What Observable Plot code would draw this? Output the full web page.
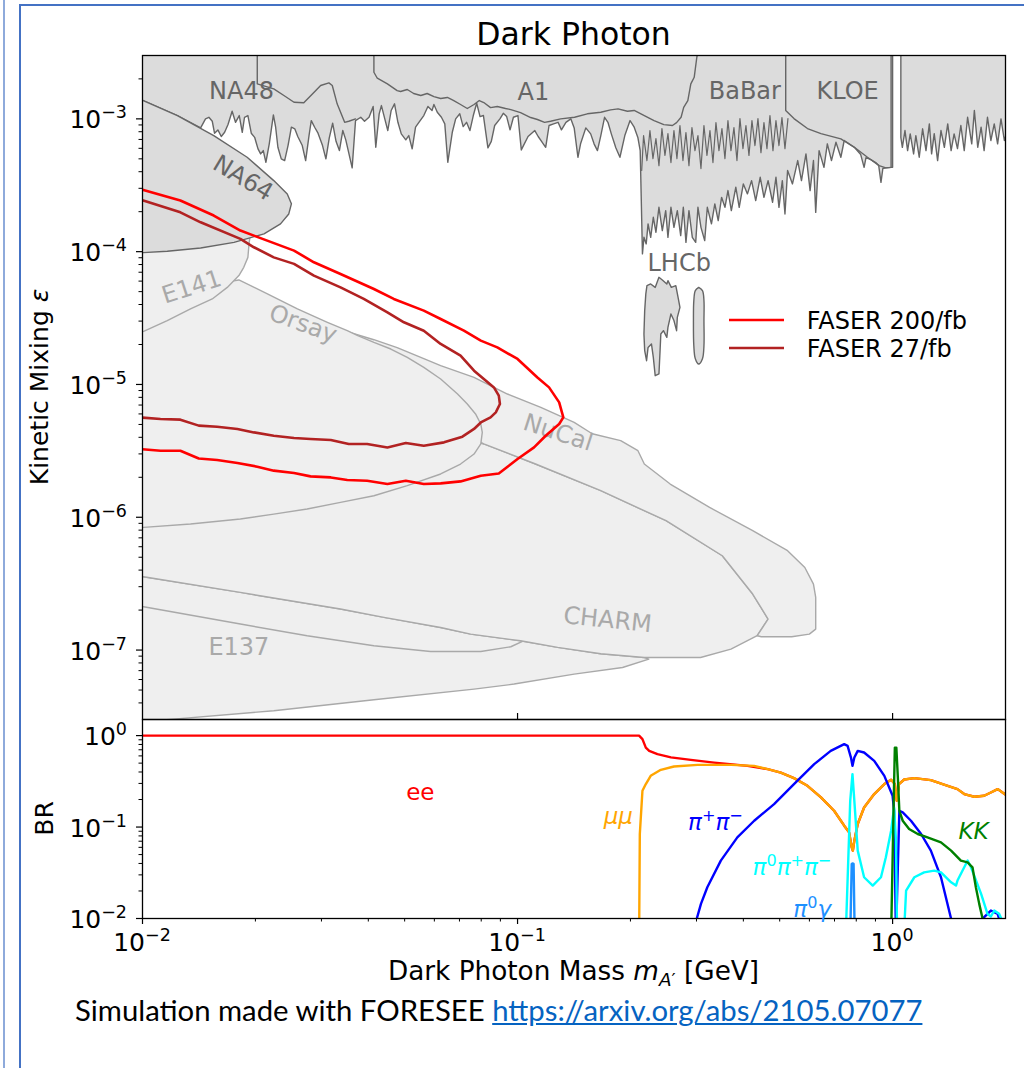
<!DOCTYPE html>
<html>
<head>
<meta charset="utf-8">
<script src="https://cdn.jsdelivr.net/npm/d3@7"></script>
<script src="https://cdn.jsdelivr.net/npm/@observablehq/plot@0.6"></script>
<style>
  body { margin: 0; background: #fff; }
  #page { position: relative; width: 1024px; height: 1068px; overflow: hidden; background: #fff; font-family: "DejaVu Sans", sans-serif; }
  .abs { position: absolute; }
  #page svg { overflow: visible; }
  #caption { font-family: Lato, "Open Sans", sans-serif; font-size: 29.3px; line-height: 29.3px; white-space: nowrap; color: #000; }
  #caption a { color: #0563c1; text-decoration: underline; }
</style>
</head>
<body>
<div id="page">
  <div class="abs" style="left:3px;top:0;width:2px;height:1068px;background:#8eaadb"></div>
  <div class="abs" style="left:19px;top:4px;width:1010px;height:1070px;border-left:2px solid #4472c4;border-top:2px solid #4472c4"></div>
  <div class="abs" id="top" style="left:0;top:0"></div>
  <div class="abs" id="bottom" style="left:0;top:700px"></div>
  <div class="abs" id="caption" style="left:75px;top:995px">Simulation made with FORESEE <a href="https://arxiv.org/abs/2105.07077">https://arxiv.org/abs/2105.07077</a></div>
</div>
<script>
// ---------------------------------------------------------------------------
// Axis ranges
const massDomain = [0.01, 2];       // GeV
const epsDomain = [3e-8, 3e-3];     // kinetic mixing
const brDomain = [0.01, 1.5];       // branching ratio

const massMajor = [0.01, 0.1, 1];
const epsMajor = [1e-7, 1e-6, 1e-5, 1e-4, 1e-3];
const brMajor = [0.01, 0.1, 1];

// ---------------------------------------------------------------------------
// Exclusion contours, listed as [log10(m / GeV), log10(epsilon)]

// beam dump limits (light grey)
const e137 = [[-2.08,-6.43],[-1.997,-6.448],[-1.739,-6.566],[-1.472,-6.691],[-1.356,-6.754],[-1.205,-6.830],[-1.125,-6.880],[-0.992,-6.930],[-0.893,-6.980],[-0.778,-7.028],[-0.662,-7.056],[-0.650,-7.068],[-0.720,-7.131],[-0.849,-7.181],[-1.009,-7.256],[-1.116,-7.294],[-1.383,-7.374],[-1.650,-7.457],[-1.917,-7.520],[-2.0,-7.540],[-2.08,-7.56]];
const e137Inner = [[-2.08,-6.66],[-1.997,-6.674],[-1.739,-6.804],[-1.561,-6.892],[-1.383,-6.968],[-1.232,-7.011],[-1.098,-7.011],[-1.018,-6.975],[-0.987,-6.935]];
const charm = [[-2.08,-4.97],[-2.0,-4.971],[-1.579,-5.122],[-1.312,-5.272],[-1.090,-5.448],[-0.952,-5.599],[-0.778,-5.800],[-0.604,-6.026],[-0.454,-6.290],[-0.373,-6.578],[-0.332,-6.767],[-0.361,-6.892],[-0.431,-6.993],[-0.512,-7.056],[-0.662,-7.056],[-0.778,-7.028],[-0.893,-6.980],[-0.992,-6.930],[-1.125,-6.880],[-1.205,-6.830],[-1.356,-6.754],[-1.472,-6.691],[-1.739,-6.566],[-1.997,-6.448],[-2.08,-6.43]];
const nucal = [[-1.525,-4.708],[-1.454,-4.603],[-1.383,-4.663],[-1.321,-4.723],[-1.250,-4.806],[-1.205,-4.858],[-1.116,-4.947],[-1.063,-5.022],[-1.027,-5.072],[-0.938,-5.173],[-0.849,-5.286],[-0.801,-5.371],[-0.725,-5.423],[-0.679,-5.499],[-0.662,-5.599],[-0.593,-5.750],[-0.488,-5.926],[-0.373,-6.101],[-0.280,-6.252],[-0.234,-6.378],[-0.211,-6.503],[-0.205,-6.604],[-0.205,-6.842],[-0.222,-6.880],[-0.269,-6.900],[-0.350,-6.900],[-0.361,-6.892],[-0.332,-6.767],[-0.373,-6.578],[-0.454,-6.290],[-0.604,-6.026],[-0.778,-5.800],[-0.952,-5.599],[-1.090,-5.448],[-1.312,-5.122],[-1.525,-4.708]];
const orsay = [[-2.08,-4.40],[-2.0,-4.369],[-1.845,-4.256],[-1.743,-4.213],[-1.667,-4.318],[-1.587,-4.431],[-1.507,-4.532],[-1.454,-4.595],[-1.426,-4.632],[-1.383,-4.683],[-1.338,-4.733],[-1.294,-4.796],[-1.250,-4.871],[-1.205,-4.959],[-1.160,-5.072],[-1.134,-5.147],[-1.112,-5.222],[-1.098,-5.298],[-1.094,-5.361],[-1.098,-5.448],[-1.116,-5.524],[-1.152,-5.599],[-1.205,-5.674],[-1.294,-5.762],[-1.383,-5.838],[-1.472,-5.888],[-1.561,-5.938],[-1.650,-5.976],[-1.739,-6.013],[-1.872,-6.051],[-1.997,-6.076],[-2.08,-6.10]];
const e141 = [[-2.08,-3.85],[-1.712,-3.857],[-1.716,-3.942],[-1.719,-4.043],[-1.730,-4.118],[-1.743,-4.180],[-1.774,-4.269],[-1.814,-4.356],[-1.872,-4.431],[-1.934,-4.519],[-1.997,-4.600],[-2.08,-4.66]];

// collider / fixed target limits (dark grey)
const na64 = [[-2.08,-2.76],[-1.998,-2.862],[-1.907,-2.975],[-1.810,-3.126],[-1.721,-3.289],[-1.650,-3.465],[-1.614,-3.565],[-1.603,-3.640],[-1.610,-3.716],[-1.632,-3.791],[-1.676,-3.866],[-1.756,-3.930],[-1.845,-3.972],[-1.934,-3.997],[-1.998,-4.007],[-2.08,-4.02]];

// combined NA48 / A1 / BaBar / LHCb / KLOE excluded band below 1 GeV
const visibleBand = [[-2.08,-2.3],[-2.08,-2.76],[-1.998,-2.862],[-1.907,-2.975],[-1.845,-3.068],
  [-1.832,-3.000],[-1.823,-2.988],[-1.814,-3.018],[-1.808,-3.108],[-1.799,-3.083],[-1.790,-3.133],[-1.781,-3.101],[-1.772,-3.043],[-1.761,-2.943],[-1.752,-3.026],[-1.742,-2.975],[-1.734,-3.101],[-1.728,-2.988],[-1.719,-2.975],[-1.710,-3.108],[-1.701,-3.139],[-1.692,-3.226],[-1.685,-3.264],[-1.678,-3.239],[-1.671,-3.327],[-1.662,-3.188],[-1.651,-2.970],[-1.645,-3.063],[-1.639,-3.214],[-1.630,-3.301],[-1.621,-3.314],[-1.612,-3.201],[-1.603,-3.063],[-1.594,-3.075],[-1.586,-3.133],[-1.574,-3.201],[-1.565,-3.314],[-1.556,-3.126],[-1.550,-3.013],[-1.541,-3.063],[-1.532,-3.108],[-1.520,-3.201],[-1.511,-3.301],[-1.502,-3.143],[-1.493,-3.033],[-1.484,-3.169],[-1.475,-3.239],[-1.466,-3.088],[-1.458,-3.158],[-1.449,-3.269],[-1.441,-3.369],
  [-1.432,-3.013],[-1.418,-2.988],[-1.408,-3.018],[-1.396,-2.988],[-1.385,-2.907],[-1.378,-3.214],[-1.369,-2.962],[-1.363,-2.900],[-1.354,-3.000],[-1.346,-3.088],[-1.337,-2.937],[-1.328,-2.887],[-1.319,-3.026],[-1.310,-3.113],[-1.298,-3.158],[-1.290,-3.126],[-1.281,-3.226],[-1.272,-3.063],[-1.263,-3.026],[-1.250,-2.975],[-1.239,-2.907],[-1.228,-2.937],[-1.223,-2.892],[-1.214,-2.950],[-1.203,-2.988],[-1.194,-3.038],[-1.186,-3.327],[-1.174,-3.101],[-1.165,-3.000],[-1.154,-2.962],[-1.145,-3.058],[-1.136,-3.026],[-1.127,-3.088],[-1.118,-2.975],[-1.109,-2.882],[-1.100,-2.983],[-1.091,-2.975],[-1.079,-3.218],[-1.070,-3.169],[-1.061,-3.050],[-1.047,-3.000],[-1.038,-2.958],[-1.029,-2.983],[-1.020,-3.083],[-1.011,-2.988],[-0.999,-2.975],[-0.990,-3.234],[-0.972,-3.133],[-0.954,-3.088],[-0.945,-3.133],[-0.936,-3.169],[-0.925,-3.214],[-0.916,-3.050],[-0.904,-3.038],[-0.892,-3.026],[-0.883,-3.083],[-0.871,-3.026],[-0.858,-3.000],[-0.849,-3.068],[-0.839,-3.289],[-0.832,-3.188],[-0.818,-3.068],[-0.805,-3.113],[-0.796,-3.188],[-0.787,-3.239],[-0.778,-3.126],[-0.768,-2.988],[-0.759,-3.026],[-0.750,-3.113],[-0.738,-3.218],[-0.727,-3.289],[-0.714,-3.126],[-0.700,-3.013],[-0.689,-3.063],[-0.679,-3.143],[-0.673,-3.239],[-0.672,-3.365],
  [-0.667,-4.017],[-0.663,-3.892],[-0.657,-3.942],[-0.652,-3.791],[-0.645,-3.892],[-0.638,-3.741],[-0.631,-3.854],[-0.623,-3.666],[-0.614,-3.841],[-0.605,-3.691],[-0.599,-3.892],[-0.591,-3.666],[-0.583,-3.817],[-0.574,-3.691],[-0.565,-3.879],[-0.558,-3.666],[-0.551,-3.930],[-0.543,-3.691],[-0.534,-3.892],[-0.525,-3.930],[-0.519,-3.666],[-0.511,-3.817],[-0.501,-3.917],[-0.494,-3.666],[-0.483,-3.791],[-0.474,-3.640],[-0.465,-3.766],[-0.456,-3.591],[-0.447,-3.666],[-0.439,-3.540],[-0.430,-3.691],[-0.418,-3.515],[-0.409,-3.666],[-0.398,-3.490],[-0.387,-3.565],[-0.376,-3.465],[-0.365,-3.615],[-0.353,-3.440],[-0.343,-3.591],[-0.332,-3.465],[-0.320,-3.628],[-0.311,-3.440],[-0.303,-3.666],[-0.294,-3.465],[-0.287,-3.716],[-0.280,-3.389],[-0.267,-3.490],[-0.253,-3.314],[-0.243,-3.465],[-0.231,-3.264],[-0.220,-3.540],[-0.211,-3.314],[-0.205,-3.704],[-0.196,-3.239],[-0.183,-3.365],[-0.174,-3.188],[-0.163,-3.314],[-0.151,-3.176],[-0.138,-3.289],[-0.129,-3.163],
  [-0.102,-3.214],[-0.085,-3.269],[-0.076,-3.365],[-0.071,-3.292],[-0.058,-3.307],[-0.045,-3.329],[-0.037,-3.352],[-0.031,-3.478],[-0.026,-3.374],[-0.018,-3.369],[-0.004,-3.365],[0.000,-3.365],[0.000,-2.3]];

// excluded band above the phi resonance
const visibleBandHigh = [[0.022,-2.3],[0.022,-3.139],[0.026,-3.214],[0.033,-3.088],[0.040,-3.239],[0.047,-3.113],[0.056,-3.264],[0.062,-3.126],[0.071,-3.289],[0.080,-3.075],[0.089,-3.239],[0.098,-3.038],[0.104,-3.264],[0.111,-3.111],[0.120,-3.314],[0.129,-3.088],[0.138,-3.214],[0.147,-3.038],[0.156,-3.239],[0.164,-3.113],[0.173,-3.224],[0.182,-3.050],[0.191,-3.239],[0.200,-2.988],[0.211,-3.188],[0.218,-2.937],[0.227,-3.214],[0.236,-3.063],[0.244,-3.239],[0.253,-2.988],[0.262,-3.163],[0.271,-3.038],[0.280,-3.188],[0.289,-3.000],[0.298,-3.163],[0.302,-3.126],[0.321,-3.10],[0.321,-2.3]];

// individual experiment edges inside the band
const na48Edge = [[-1.694,-2.4],[-1.694,-2.736],[-1.650,-2.774],[-1.623,-2.824],[-1.596,-2.875],[-1.570,-2.879],[-1.547,-2.812],[-1.525,-2.749],[-1.503,-2.729],[-1.494,-2.749],[-1.481,-2.887],[-1.461,-3.026],[-1.450,-3.018],[-1.432,-3.000]];
const a1Edge = [[-1.383,-2.4],[-1.383,-2.649],[-1.374,-2.694],[-1.347,-2.736],[-1.321,-2.787],[-1.312,-2.794],[-1.294,-2.779],[-1.277,-2.809],[-1.258,-2.824],[-1.241,-2.809],[-1.223,-2.832],[-1.205,-2.847],[-1.187,-2.839],[-1.170,-2.862],[-1.152,-2.892],[-1.134,-2.922],[-1.116,-2.892],[-1.102,-2.862],[-1.090,-2.877],[-1.072,-2.915],[-1.054,-2.907],[-1.032,-2.922],[-1.018,-2.930],[-0.992,-2.953],[-0.965,-2.990],[-0.947,-3.005],[-0.928,-3.026],[-0.912,-3.018],[-0.885,-3.000],[-0.848,-2.988],[-0.814,-2.962],[-0.778,-2.950],[-0.752,-2.932],[-0.732,-2.925],[-0.707,-2.943],[-0.689,-2.937],[-0.662,-2.975],[-0.636,-3.013],[-0.610,-3.043],[-0.587,-3.050],[-0.576,-3.028],[-0.564,-2.988],[-0.557,-2.913],[-0.546,-2.862],[-0.538,-2.736],[-0.529,-2.687],[-0.522,-2.536],[-0.517,-2.471]];
const kloeEdge = [[-0.285,-2.4],[-0.285,-2.937],[-0.263,-2.998],[-0.227,-3.073],[-0.191,-3.111],[-0.138,-3.151],[-0.102,-3.214],[-0.067,-3.289],[-0.036,-3.352],[-0.018,-3.369],[-0.004,-3.365],[-0.004,-2.4]];
const lhcbScan = [[-0.669,-3.389],[-0.664,-3.126],[-0.655,-3.314],[-0.647,-3.088],[-0.639,-3.299],[-0.631,-3.148],[-0.623,-3.352],[-0.615,-3.073],[-0.607,-3.276],[-0.599,-3.111],[-0.591,-3.329],[-0.583,-3.088],[-0.575,-3.299],[-0.567,-3.050],[-0.559,-3.314],[-0.551,-3.103],[-0.543,-3.352],[-0.535,-3.066],[-0.527,-3.239],[-0.519,-3.126],[-0.511,-3.374],[-0.503,-3.050],[-0.495,-3.276],[-0.487,-3.088],[-0.479,-3.329],[-0.471,-3.028],[-0.463,-3.239],[-0.455,-3.073],[-0.447,-3.299],[-0.439,-3.013],[-0.431,-3.239],[-0.423,-3.066],[-0.415,-3.314],[-0.407,-2.998],[-0.399,-3.224],[-0.391,-3.050],[-0.383,-3.276],[-0.375,-3.013],[-0.367,-3.201],[-0.359,-2.998],[-0.351,-3.254],[-0.343,-3.028],[-0.335,-3.224],[-0.327,-2.976],[-0.319,-3.239],[-0.311,-3.013],[-0.303,-3.201],[-0.295,-2.990],[-0.287,-3.224],[-0.279,-2.998]];

// LHCb displaced search islands
const lhcbIsland1 = [[-0.655,-4.256],[-0.645,-4.243],[-0.633,-4.269],[-0.623,-4.193],[-0.614,-4.213],[-0.602,-4.243],[-0.599,-4.218],[-0.590,-4.269],[-0.578,-4.256],[-0.572,-4.344],[-0.567,-4.419],[-0.574,-4.495],[-0.576,-4.595],[-0.583,-4.519],[-0.591,-4.469],[-0.599,-4.570],[-0.602,-4.645],[-0.611,-4.595],[-0.618,-4.620],[-0.620,-4.745],[-0.623,-4.921],[-0.633,-4.934],[-0.638,-4.796],[-0.643,-4.695],[-0.652,-4.721],[-0.656,-4.821],[-0.661,-4.745],[-0.663,-4.620],[-0.661,-4.444],[-0.658,-4.318],[-0.655,-4.256]];
const lhcbIsland2 = [[-0.517,-4.269],[-0.507,-4.293],[-0.503,-4.369],[-0.503,-4.519],[-0.503,-4.708],[-0.507,-4.806],[-0.517,-4.846],[-0.526,-4.806],[-0.530,-4.708],[-0.531,-4.519],[-0.530,-4.369],[-0.526,-4.293],[-0.517,-4.269]];

// FASER sensitivity contours
const faser200 = [[-2.0,-3.533],[-1.899,-3.615],[-1.810,-3.728],[-1.739,-3.841],[-1.703,-3.879],[-1.596,-3.992],[-1.543,-4.080],[-1.472,-4.168],[-1.383,-4.281],[-1.330,-4.356],[-1.250,-4.444],[-1.205,-4.507],[-1.143,-4.595],[-1.098,-4.670],[-1.054,-4.721],[-1.000,-4.808],[-0.947,-4.947],[-0.916,-5.022],[-0.889,-5.135],[-0.878,-5.248],[-0.889,-5.298],[-0.925,-5.386],[-0.956,-5.474],[-1.000,-5.561],[-1.050,-5.670],[-1.098,-5.687],[-1.152,-5.730],[-1.205,-5.745],[-1.250,-5.750],[-1.298,-5.725],[-1.347,-5.750],[-1.401,-5.725],[-1.454,-5.719],[-1.498,-5.700],[-1.552,-5.692],[-1.596,-5.667],[-1.650,-5.649],[-1.694,-5.619],[-1.747,-5.591],[-1.801,-5.569],[-1.850,-5.557],[-1.899,-5.499],[-1.952,-5.499],[-2.0,-5.488]];
const faser27 = [[-2.0,-3.613],[-1.899,-3.704],[-1.845,-3.779],[-1.739,-3.904],[-1.703,-3.967],[-1.650,-4.043],[-1.596,-4.092],[-1.543,-4.180],[-1.472,-4.269],[-1.410,-4.356],[-1.347,-4.457],[-1.303,-4.532],[-1.250,-4.595],[-1.205,-4.695],[-1.152,-4.783],[-1.116,-4.896],[-1.063,-5.022],[-1.050,-5.084],[-1.047,-5.147],[-1.058,-5.210],[-1.072,-5.248],[-1.098,-5.286],[-1.116,-5.335],[-1.147,-5.393],[-1.196,-5.436],[-1.250,-5.461],[-1.298,-5.441],[-1.347,-5.474],[-1.401,-5.448],[-1.450,-5.448],[-1.498,-5.418],[-1.552,-5.411],[-1.596,-5.403],[-1.650,-5.386],[-1.703,-5.361],[-1.747,-5.335],[-1.801,-5.318],[-1.850,-5.310],[-1.899,-5.265],[-1.952,-5.260],[-2.0,-5.250]];

// ---------------------------------------------------------------------------
// Branching ratios, listed as [log10(m / GeV), log10(BR)]; [NaN, NaN] breaks a curve
const brHighTail = [[-0.227,-0.549],[-0.191,-0.676],[-0.156,-0.822],[-0.129,-0.985],[-0.116,-1.058],[-0.109,-1.222],[-0.106,-1.258],[-0.102,-1.149],[-0.093,-0.967],[-0.076,-0.786],[-0.049,-0.639],[-0.022,-0.530],[-0.004,-0.483],[0.006,-0.530],[0.011,-0.712],[0.017,-0.530],[0.031,-0.480],[0.058,-0.465],[0.102,-0.487],[0.147,-0.549],[0.173,-0.585],[0.191,-0.639],[0.218,-0.669],[0.244,-0.658],[0.262,-0.622],[0.280,-0.585],[0.293,-0.622],[0.302,-0.647]];
const brEE = [[-2.0,0],[-0.676,0],[-0.667,-0.039],[-0.658,-0.131],[-0.649,-0.167],[-0.627,-0.203],[-0.591,-0.238],[-0.538,-0.265],[-0.476,-0.295],[-0.387,-0.331],[-0.333,-0.367],[-0.298,-0.404],[-0.263,-0.465], ...brHighTail];
const brMuMu = [[-0.676,-2.3],[-0.674,-1.076],[-0.667,-0.603],[-0.658,-0.530],[-0.645,-0.440],[-0.618,-0.374],[-0.583,-0.338],[-0.520,-0.320],[-0.431,-0.320],[-0.369,-0.331],[-0.333,-0.367],[-0.298,-0.404],[-0.263,-0.465], ...brHighTail];
const brPiPi = [[-0.526,-2.2],[-0.522,-2.0],[-0.511,-1.840],[-0.494,-1.658],[-0.458,-1.367],[-0.414,-1.113],[-0.369,-0.931],[-0.316,-0.749],[-0.263,-0.530],[-0.209,-0.312],[-0.165,-0.167],[-0.129,-0.094],[-0.120,-0.112],[-0.111,-0.240],[-0.107,-0.331],[-0.102,-0.240],[-0.093,-0.167],[-0.076,-0.185],[-0.049,-0.276],[-0.022,-0.440],[0.000,-0.658],[0.004,-0.822],[0.009,-2.2],[0.018,-0.822],[0.027,-0.840],[0.049,-0.931],[0.076,-1.076],[0.102,-1.258],[0.129,-1.549],[0.156,-2.003],[0.161,-2.2],[NaN,NaN],[0.238,-2.2],[0.244,-1.986],[0.262,-1.913],[0.280,-1.949],[0.284,-2.003],[0.289,-2.2]];
const brPi0PiPi = [[-0.125,-2.2],[-0.113,-0.713],[-0.107,-0.421],[-0.102,-0.713],[-0.093,-1.258],[-0.076,-1.549],[-0.053,-1.640],[-0.031,-1.549],[-0.018,-1.331],[-0.004,-1.040],[0.004,-0.786],[0.009,-1.149],[0.012,-2.2],[0.030,-2.2],[0.036,-1.694],[0.058,-1.549],[0.084,-1.495],[0.111,-1.476],[0.129,-1.495],[0.156,-1.604],[0.169,-1.640],[0.173,-1.585],[0.191,-1.440],[0.200,-1.367],[0.209,-1.440],[0.236,-1.731],[0.253,-1.949],[0.262,-1.978],[0.271,-1.913],[0.284,-1.949],[0.290,-2.003],[0.294,-2.2]];
const brPi0Gamma = [[-0.113,-2.2],[-0.109,-1.403],[-0.107,-1.397],[-0.104,-1.403],[-0.101,-2.2]];
const brKK = [[-0.004,-2.2],[0.003,-0.713],[0.006,-0.131],[0.010,-0.131],[0.014,-0.458],[0.018,-0.822],[0.027,-0.931],[0.044,-1.021],[0.067,-1.076],[0.093,-1.113],[0.129,-1.167],[0.156,-1.258],[0.182,-1.367],[0.200,-1.386],[0.213,-1.440],[0.222,-1.658],[0.231,-1.840],[0.240,-2.003],[0.243,-2.2]];

// ---------------------------------------------------------------------------
// Annotations (anchor in [log10 m, log10 value])
const darkNames = [
  {name: "NA48", lm: -1.736, lv: -2.794, rot: 0},
  {name: "A1", lm: -0.958, lv: -2.798, rot: 0},
  {name: "BaBar", lm: -0.394, lv: -2.794, rot: 0},
  {name: "KLOE", lm: -0.120, lv: -2.794, rot: 0},
  {name: "NA64", lm: -1.732, lv: -3.446, rot: 31},
  {name: "LHCb", lm: -0.569, lv: -4.090, rot: 0}
];
const lightNames = [
  {name: "E141", lm: -1.869, lv: -4.267, rot: -18},
  {name: "Orsay", lm: -1.572, lv: -4.544, rot: 20},
  {name: "NuCal", lm: -0.892, lv: -5.363, rot: 18},
  {name: "CHARM", lm: -0.760, lv: -6.773, rot: 6},
  {name: "E137", lm: -1.743, lv: -6.980, rot: 0}
];
const faserRuns = [{label: "FASER 200/fb", color: "#ff0000"}, {label: "FASER 27/fb", color: "#b22222"}];
const channelColor = {ee: "#ff0000", mumu: "#ffa500", pipi: "#0000ff", pi3: "#00ffff", pig: "#1e90ff", kk: "#008000"};
const channelNames = [
  {parts: [["ee"]], lm: -1.258, lv: -0.712, color: channelColor.ee},
  {parts: [["μμ", "it"]], lm: -0.730, lv: -0.976, color: channelColor.mumu},
  {parts: [["π", "it"], ["+", "sup"], ["π", "it"], ["−", "sup"]], lm: -0.471, lv: -1.040, color: channelColor.pipi},
  {parts: [["π", "it"], ["0", "sup"], ["π", "it"], ["+", "sup"], ["π", "it"], ["−", "sup"]], lm: -0.267, lv: -1.531, color: channelColor.pi3},
  {parts: [["π", "it"], ["0", "sup"], ["γ", "it"]], lm: -0.213, lv: -1.986, color: channelColor.pig},
  {parts: [["KK", "it"]], lm: 0.217, lv: -1.141, color: channelColor.kk}
];

// ---------------------------------------------------------------------------
const FONT = "DejaVu Sans";
const pts = arr => arr.map(([a, b]) => ({m: 10 ** a, v: 10 ** b}));
const minorTicks = ([lo, hi]) => {
  const out = [];
  for (let e = Math.floor(Math.log10(lo)) - 1; e <= Math.ceil(Math.log10(hi)); e++)
    for (let k = 2; k <= 9; k++) {
      const v = k * 10 ** e;
      if (v > lo * 1.001 && v < hi * 0.999) out.push(v);
    }
  return out;
};
const blank = () => "";

const lightFill = "#efefef", lightEdge = "#a9a9a9";
const darkFill = "#dcdcdc", darkEdge = "#666666";
const region = (arr, fill, stroke, extra = {}) =>
  Plot.line(pts(arr), {x: "m", y: "v", fill, stroke, strokeWidth: 1.4, clip: true, ...extra});
const nameMark = (list, fill) =>
  Plot.text(list, {x: d => 10 ** d.lm, y: d => 10 ** d.lv, text: "name", rotate: "rot", fill, fontSize: 24, fontFamily: FONT, clip: true});

const topPlot = Plot.plot({
  width: 1024, height: 740,
  marginTop: 55, marginBottom: 21, marginLeft: 142, marginRight: 19,
  x: {type: "log", domain: massDomain},
  y: {type: "log", domain: epsDomain},
  style: {fontFamily: FONT, background: "transparent", overflow: "visible"},
  marks: [
    region(e137, lightFill, lightEdge),
    region(e137Inner, "none", lightEdge),
    region(charm, lightFill, lightEdge),
    region(nucal, lightFill, lightEdge),
    region(orsay, lightFill, lightEdge),
    region(e141, lightFill, lightEdge),
    region(visibleBand, darkFill, darkEdge),
    region(visibleBandHigh, darkFill, darkEdge),
    region(na64, darkFill, darkEdge),
    region(na48Edge, "none", darkEdge),
    region(a1Edge, "none", darkEdge),
    region(kloeEdge, "none", darkEdge),
    region(lhcbScan, "none", darkEdge, {strokeWidth: 1.2}),
    region(lhcbIsland1, darkFill, darkEdge),
    region(lhcbIsland2, darkFill, darkEdge, {curve: "catmull-rom"}),
    nameMark(lightNames, lightEdge),
    nameMark(darkNames, darkEdge),
    Plot.line(pts(faser200), {x: "m", y: "v", stroke: faserRuns[0].color, strokeWidth: 2.6, clip: true}),
    Plot.line(pts(faser27), {x: "m", y: "v", stroke: faserRuns[1].color, strokeWidth: 2.6, clip: true}),
    Plot.axisY(epsMajor, {anchor: "left", tickSize: 6, tickFormat: blank, label: null, strokeWidth: 1.2}),
    Plot.axisY(minorTicks(epsDomain), {anchor: "left", tickSize: 3.5, tickFormat: blank, label: null, strokeWidth: 1}),
    Plot.axisX(massMajor.slice(1), {anchor: "bottom", tickSize: -6, tickFormat: blank, label: null, strokeWidth: 1.2}),
    Plot.frame({stroke: "#000", strokeWidth: 1.3})
  ]
});
document.getElementById("top").appendChild(topPlot);

const bottomPlot = Plot.plot({
  width: 1024, height: 300,
  marginTop: 19, marginBottom: 82, marginLeft: 142, marginRight: 19,
  x: {type: "log", domain: massDomain},
  y: {type: "log", domain: brDomain},
  style: {fontFamily: FONT, background: "transparent", overflow: "visible"},
  marks: [
    Plot.line(pts(brEE), {x: "m", y: "v", stroke: channelColor.ee, strokeWidth: 2.4, clip: true}),
    Plot.line(pts(brMuMu), {x: "m", y: "v", stroke: channelColor.mumu, strokeWidth: 2.4, clip: true}),
    Plot.line(pts(brPiPi), {x: "m", y: "v", stroke: channelColor.pipi, strokeWidth: 2.4, clip: true}),
    Plot.line(pts(brPi0PiPi), {x: "m", y: "v", stroke: channelColor.pi3, strokeWidth: 2.4, clip: true}),
    Plot.line(pts(brPi0Gamma), {x: "m", y: "v", stroke: channelColor.pig, strokeWidth: 2.4, clip: true}),
    Plot.line(pts(brKK), {x: "m", y: "v", stroke: channelColor.kk, strokeWidth: 2.4, clip: true}),
    Plot.axisY(brMajor, {anchor: "left", tickSize: 6, tickFormat: blank, label: null, strokeWidth: 1.2}),
    Plot.axisY(minorTicks(brDomain), {anchor: "left", tickSize: 3.5, tickFormat: blank, label: null, strokeWidth: 1}),
    Plot.axisX(massMajor, {anchor: "bottom", tickSize: 6, tickFormat: blank, label: null, strokeWidth: 1.2}),
    Plot.axisX(minorTicks(massDomain), {anchor: "bottom", tickSize: 3.5, tickFormat: blank, label: null, strokeWidth: 1}),
    Plot.frame({stroke: "#000", strokeWidth: 1.3})
  ]
});
document.getElementById("bottom").appendChild(bottomPlot);

// ---------------------------------------------------------------------------
// Text with math-style superscripts, subscripts and italics
function rich(sel, x, y, parts, {anchor = "start", size = 25, color = "#000", rotate = 0} = {}) {
  const t = sel.append("text").attr("x", x).attr("y", y).attr("text-anchor", anchor)
    .attr("font-family", FONT).attr("font-size", size).attr("fill", color);
  if (rotate) t.attr("transform", `rotate(${rotate} ${x} ${y})`);
  let shift = 0;
  for (const [s, kind = ""] of parts) {
    const target = kind.includes("sup") ? -0.4 * size : kind.includes("sub") ? 0.24 * size : 0;
    const ts = t.append("tspan").text(s);
    if (target !== shift) { ts.attr("dy", target - shift); shift = target; }
    if (kind.includes("sup") || kind.includes("sub")) ts.attr("font-size", 0.7 * size);
    if (kind.includes("it")) ts.attr("font-style", "italic");
  }
  return t;
}
const power = v => {
  const n = Math.round(Math.log10(v));
  return [["10"], [(n < 0 ? "\u2212" : "") + Math.abs(n), "sup"]];
};

const topSvg = d3.select(topPlot);
const tx = topPlot.scale("x"), ty = topPlot.scale("y");
const bottomSvg = d3.select(bottomPlot);
const bx = bottomPlot.scale("x"), by = bottomPlot.scale("y");
const left = tx.apply(massDomain[0]), right = tx.apply(massDomain[1]);
const centerX = (left + right) / 2;

// title
rich(topSvg, centerX, 45, [["Dark Photon"]], {anchor: "middle", size: 31.5});

// tick labels
for (const v of epsMajor) rich(topSvg, left - 15, ty.apply(v) + 10, power(v), {anchor: "end"});
for (const v of brMajor) rich(bottomSvg, left - 15, by.apply(v) + 10, power(v), {anchor: "end"});
for (const v of massMajor) rich(bottomSvg, bx.apply(v), by.apply(brDomain[0]) + 33, power(v), {anchor: "middle"});

// axis labels
const topMid = (ty.apply(epsDomain[0]) + ty.apply(epsDomain[1])) / 2;
rich(topSvg, 48, topMid, [["Kinetic Mixing "], ["ε", "it"]], {anchor: "middle", rotate: -90});
const botMid = (by.apply(brDomain[0]) + by.apply(brDomain[1])) / 2;
rich(bottomSvg, 53, botMid, [["BR"]], {anchor: "middle", rotate: -90});
rich(bottomSvg, centerX, by.apply(brDomain[0]) + 62,
  [["Dark Photon Mass "], ["m", "it"], ["A", "sub it"], ["\u2032", "sub"], [" [GeV]"]], {anchor: "middle", size: 26.3});

// legend
faserRuns.forEach((run, i) => {
  const y = 320 + 28 * i;
  topSvg.append("line").attr("x1", 729).attr("x2", 784).attr("y1", y).attr("y2", y)
    .attr("stroke", run.color).attr("stroke-width", 2.6);
  rich(topSvg, 806.7, y + 8.5, [[run.label]], {size: 24});
});

// decay channel labels
for (const c of channelNames)
  rich(bottomSvg, bx.apply(10 ** c.lm), by.apply(10 ** c.lv), c.parts, {anchor: "middle", size: 23, color: c.color});
</script>
</body>
</html>
